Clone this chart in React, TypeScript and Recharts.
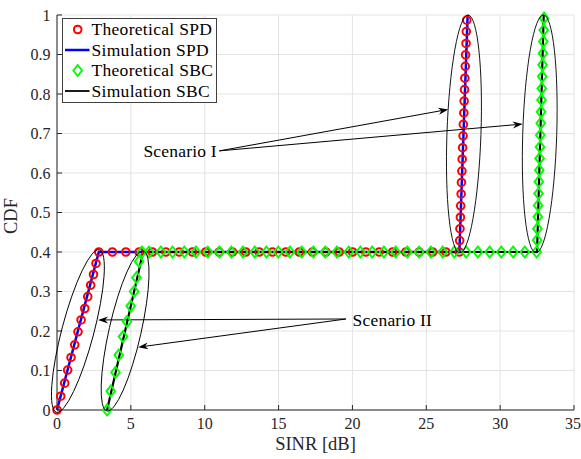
import React from "react";
import {
  ComposedChart,
  Line,
  Scatter,
  XAxis,
  YAxis,
  CartesianGrid,
  Legend,
  ReferenceDot,
  ReferenceLine,
} from "recharts";

// Theoretical SPD (red circles)
const spdTheoX = [
  0, 0.25, 0.52, 0.72, 0.95, 1.2, 1.42, 1.63, 1.88, 2.08, 2.28, 2.47, 2.64, 2.83,
  3.75, 4.66, 5.56, 6.46, 7.37, 8.27, 9.17, 10.07, 10.98, 11.88, 12.78, 13.69, 14.59,
  15.49, 16.4, 17.3, 18.2, 19.1, 20.01, 20.91, 21.81, 22.72, 23.62, 24.52, 25.43, 26.33,
  27.23, 27.26, 27.28, 27.31, 27.33, 27.36, 27.38, 27.41, 27.43, 27.46, 27.49, 27.51,
  27.54, 27.56, 27.59, 27.61, 27.64, 27.66, 27.69, 27.71, 27.74,
];
const spdTheoY = [
  0, 0.035, 0.068, 0.101, 0.133, 0.165, 0.198, 0.228, 0.257, 0.287, 0.316, 0.343, 0.371, 0.4,
  0.4, 0.4, 0.4, 0.4, 0.4, 0.4, 0.4, 0.4, 0.4, 0.4, 0.4, 0.4, 0.4,
  0.4, 0.4, 0.4, 0.4, 0.4, 0.4, 0.4, 0.4, 0.4, 0.4, 0.4, 0.4, 0.4,
  0.4, 0.429, 0.459, 0.488, 0.517, 0.547, 0.576, 0.605, 0.635, 0.664, 0.694, 0.723,
  0.752, 0.782, 0.811, 0.84, 0.87, 0.899, 0.928, 0.958, 0.987,
];

// Simulation SPD (blue line)
const spdSimX = [0, 2.83, 27.24, 27.8];
const spdSimY = [0, 0.4, 0.4, 1];

// Theoretical SBC (green diamonds)
const sbcTheoX = [
  3.39, 3.64, 3.96, 4.18, 4.47, 4.74, 4.99, 5.22, 5.38, 5.56, 5.75,
  6.23, 7.03, 7.82, 8.62, 9.41, 10.21, 11.0, 11.8, 12.59, 13.39, 14.18, 14.98, 15.77,
  16.57, 17.36, 18.16, 18.95, 19.75, 20.54, 21.34, 22.13, 22.93, 23.72, 24.52, 25.31,
  26.11, 26.9, 27.7, 28.49, 29.29, 30.08, 30.88, 31.67, 32.47,
  32.5, 32.52, 32.55, 32.57, 32.6, 32.62, 32.65, 32.67, 32.7, 32.72, 32.75, 32.77,
  32.8, 32.82, 32.85, 32.87, 32.9, 32.92, 32.95, 32.97,
];
const sbcTheoY = [
  0, 0.048, 0.095, 0.139, 0.186, 0.224, 0.263, 0.3, 0.335, 0.376, 0.4,
  0.4, 0.4, 0.4, 0.4, 0.4, 0.4, 0.4, 0.4, 0.4, 0.4, 0.4, 0.4, 0.4,
  0.4, 0.4, 0.4, 0.4, 0.4, 0.4, 0.4, 0.4, 0.4, 0.4, 0.4, 0.4,
  0.4, 0.4, 0.4, 0.4, 0.4, 0.4, 0.4, 0.4, 0.4,
  0.43, 0.459, 0.489, 0.518, 0.548, 0.578, 0.607, 0.637, 0.666, 0.696, 0.726, 0.755,
  0.785, 0.814, 0.844, 0.874, 0.903, 0.933, 0.962, 0.992,
];

// Simulation SBC (black line)
const sbcSimX = [3.39, 5.83, 32.5, 32.95];
const sbcSimY = [0, 0.4, 0.4, 1];

const xTicks = [0, 5, 10, 15, 20, 25, 30, 35];
const yTicks = [0, 0.1, 0.2, 0.3, 0.4, 0.5, 0.6, 0.7, 0.8, 0.9, 1];

// annotation anchors (data coords)
const ellipses = [
  { x: 1.415, y: 0.2, a: 84, b: 16, angle: 14.8 },
  { x: 4.61, y: 0.2, a: 82, b: 16, angle: 12.8 },
  { x: 27.55, y: 0.699, a: 119, b: 17, angle: 2 },
  { x: 32.68, y: 0.699, a: 119, b: 17, angle: 1.8 },
];
const arrows = [
  { from: { x: 10.99, y: 0.656 }, to: { x: 26.49, y: 0.761 } },
  { from: { x: 10.99, y: 0.656 }, to: { x: 31.53, y: 0.724 } },
  { from: { x: 19.56, y: 0.2304 }, to: { x: 2.78, y: 0.228 } },
  { from: { x: 19.56, y: 0.2304 }, to: { x: 5.49, y: 0.159 } },
];
const notes = [
  { text: "Scenario I", x: 10.82, y: 0.656, anchor: "end" },
  { text: "Scenario II", x: 20.01, y: 0.228, anchor: "start" },
];

const zip = (xs: number[], ys: number[]) => xs.map((x, i) => ({ x, y: ys[i] }));

const spdTheo = zip(spdTheoX, spdTheoY);
const spdSim = zip(spdSimX, spdSimY);
const sbcTheo = zip(sbcTheoX, sbcTheoY);
const sbcSim = zip(sbcSimX, sbcSimY);

const SERIF = "'Liberation Serif', 'Times New Roman', serif";
const AXIS = "#262626";

const RedCircle = (p: any) => (
  <circle cx={p.cx} cy={p.cy} r={3.8} fill="none" stroke="#ff0000" strokeWidth={2} />
);

const diamondPath = (cx: number, cy: number) =>
  `M${cx},${cy - 5.5} L${cx + 4.3},${cy} L${cx},${cy + 5.5} L${cx - 4.3},${cy} Z`;

const GreenDiamond = (p: any) => (
  <path d={diamondPath(p.cx, p.cy)} fill="none" stroke="#00ff00" strokeWidth={2} />
);

const Arrow = (p: any) => {
  const { x1, y1, x2, y2 } = p;
  const dx = x2 - x1;
  const dy = y2 - y1;
  const len = Math.hypot(dx, dy) || 1;
  const ux = dx / len;
  const uy = dy / len;
  const nx = -uy;
  const ny = ux;
  const L = 10;
  const hw = 3.5;
  const notch = 7;
  const bx = x2 - ux * L;
  const by = y2 - uy * L;
  const head = `M${x2},${y2} L${bx + nx * hw},${by + ny * hw} L${x2 - ux * notch},${
    y2 - uy * notch
  } L${bx - nx * hw},${by - ny * hw} Z`;
  return (
    <g>
      <line x1={x1} y1={y1} x2={x2 - ux * notch} y2={y2 - uy * notch} stroke="#000" strokeWidth={1} />
      <path d={head} fill="#000" />
    </g>
  );
};

const legendItems = [
  { name: "Theoretical SPD", kind: "circle" },
  { name: "Simulation SPD", kind: "line", color: "#0000ff", width: 2.5 },
  { name: "Theoretical SBC", kind: "diamond" },
  { name: "Simulation SBC", kind: "line", color: "#000000", width: 1.8 },
];

const renderLegend = () => (
  <svg width={155} height={85} style={{ display: "block" }}>
    <rect x={0.5} y={0.5} width={154} height={84} fill="#fff" stroke="#404040" strokeWidth={1} />
    {legendItems.map((it, i) => {
      const cy = 11.5 + i * 20.5;
      return (
        <g key={it.name}>
          {it.kind === "circle" && <RedCircle cx={15.7} cy={cy} />}
          {it.kind === "diamond" && <GreenDiamond cx={15.7} cy={cy} />}
          {it.kind === "line" && (
            <line x1={3} y1={cy} x2={27.5} y2={cy} stroke={it.color} strokeWidth={it.width} />
          )}
          <text
            x={29.5}
            y={cy}
            dy="0.34em"
            fontFamily={SERIF}
            fontSize={17.5}
            letterSpacing={0.3}
            fill="#000"
          >
            {it.name}
          </text>
        </g>
      );
    })}
  </svg>
);

export default function App() {
  const tickStyle = { fontFamily: SERIF, fontSize: 16, fill: AXIS };
  return (
    <div style={{ position: "absolute", left: 0, top: 0, background: "#fff" }}>
      <ComposedChart width={581} height={459} margin={{ top: 15, right: 7, bottom: 0, left: 0 }}>
        <CartesianGrid stroke="#e3e3e3" strokeWidth={1} />
        <XAxis
          type="number"
          dataKey="x"
          domain={[0, 35]}
          ticks={xTicks}
          height={49}
          stroke={AXIS}
          tick={tickStyle}
          tickSize={-5}
          tickMargin={13}
          label={{
            content: (props: any) => {
              const vb = props.viewBox || { x: 57, y: 410, width: 517 };
              return (
                <text
                  x={vb.x + vb.width / 2}
                  y={vb.y + 40}
                  textAnchor="middle"
                  fontFamily={SERIF}
                  fontSize={18.5}
                  fill={AXIS}
                >
                  SINR [dB]
                </text>
              );
            },
          }}
        />
        <XAxis
          xAxisId="top"
          orientation="top"
          type="number"
          domain={[0, 35]}
          ticks={xTicks}
          allowDataOverflow
          height={0}
          stroke={AXIS}
          tick={false}
          tickSize={-5}
        />
        <YAxis
          type="number"
          dataKey="y"
          domain={[0, 1]}
          ticks={yTicks}
          width={57}
          stroke={AXIS}
          tick={tickStyle}
          tickSize={-5}
          tickMargin={11.5}
          label={{
            content: () => (
              <text
                x={17}
                y={216}
                transform="rotate(-90 17 216)"
                textAnchor="middle"
                fontFamily={SERIF}
                fontSize={18.5}
                fill={AXIS}
              >
                CDF
              </text>
            ),
          }}
        />
        <YAxis
          yAxisId="right"
          orientation="right"
          type="number"
          domain={[0, 1]}
          ticks={yTicks}
          allowDataOverflow
          width={0}
          stroke={AXIS}
          tick={false}
          tickSize={-5}
        />
        <Scatter
          name="Theoretical SPD"
          data={spdTheo}
          shape={RedCircle}
          isAnimationActive={false}
        />
        <Line
          name="Simulation SPD"
          data={spdSim}
          dataKey="y"
          type="linear"
          stroke="#0000ff"
          strokeWidth={2.5}
          dot={false}
          activeDot={false}
          isAnimationActive={false}
        />
        <Scatter
          name="Theoretical SBC"
          data={sbcTheo}
          shape={GreenDiamond}
          isAnimationActive={false}
        />
        <Line
          name="Simulation SBC"
          data={sbcSim}
          dataKey="y"
          type="linear"
          stroke="#000000"
          strokeWidth={2.2}
          dot={false}
          activeDot={false}
          isAnimationActive={false}
        />
        {ellipses.map((e, i) => (
          <ReferenceDot
            key={`e${i}`}
            x={e.x}
            y={e.y}
            r={1}
            shape={(p: any) => (
              <ellipse
                cx={p.cx}
                cy={p.cy}
                rx={e.b}
                ry={e.a}
                transform={`rotate(${e.angle} ${p.cx} ${p.cy})`}
                fill="none"
                stroke="#000"
                strokeWidth={0.9}
              />
            )}
          />
        ))}
        {arrows.map((a, i) => (
          <ReferenceLine key={`a${i}`} segment={[a.from, a.to]} shape={Arrow} />
        ))}
        {notes.map((n) => (
          <ReferenceDot
            key={n.text}
            x={n.x}
            y={n.y}
            r={1}
            shape={(p: any) => (
              <text
                x={p.cx}
                y={p.cy}
                dy="0.35em"
                textAnchor={n.anchor as any}
                fontFamily={SERIF}
                fontSize={17.5}
                letterSpacing={0.2}
                fill="#000"
              >
                {n.text}
              </text>
            )}
          />
        ))}
        <Legend
          layout="vertical"
          align="center"
          verticalAlign="middle"
          wrapperStyle={{ top: 18, left: 62, width: 155, height: 85 }}
          content={renderLegend}
        />
      </ComposedChart>
    </div>
  );
}
